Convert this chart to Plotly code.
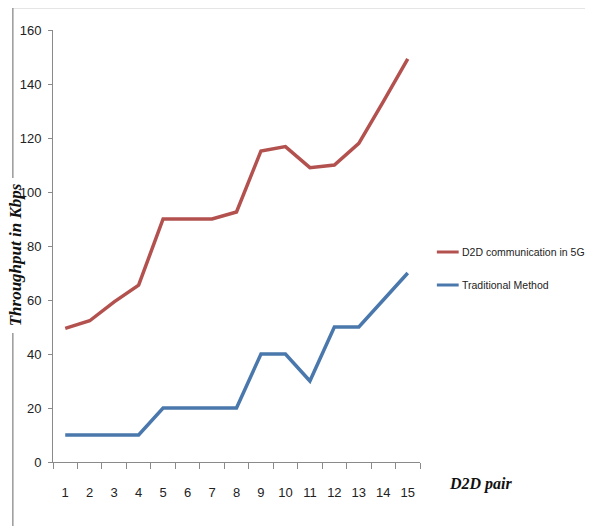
import plotly.graph_objects as go

pairs = list(range(1, 16))
d2d_5g = [49.5, 52.3, 59.3, 65.5, 90, 90, 90, 92.6, 115.2, 116.8, 109, 110, 118, 133.5, 149.3]
traditional = [10, 10, 10, 10, 20, 20, 20, 20, 40, 40, 30, 50, 50, 60, 70]
y_ticks = [0, 20, 40, 60, 80, 100, 120, 140, 160]
series_names = ["D2D communication in 5G", "Traditional Method"]
series_colors = ["#B3514F", "#4A78AC"]

OFF = 8  # page body margin
W, H = 593 - 2 * OFF, 526 - OFF
L, R, T, B = 50 - OFF, 420 - OFF, 30 - OFF, 462 - OFF
pw, ph = R - L, B - T

def px(x):
    return (x - OFF - L) / pw

def py(y):
    return (B - (y - OFF)) / ph

tick_font = dict(family="Liberation Sans Narrow, Arial Narrow, Liberation Sans, Arial", size=13, color="#222")

fig = go.Figure()
for name, vals, col in zip(series_names, [d2d_5g, traditional], series_colors):
    fig.add_trace(go.Scatter(x=pairs, y=vals, mode="lines", name=name,
                             line=dict(color=col, width=3.5), showlegend=False))

fig.update_layout(
    width=W, height=H,
    margin=dict(l=L, r=W - R, t=T, b=H - B),
    paper_bgcolor="white", plot_bgcolor="white",
    xaxis=dict(range=[0.5, 15.5], tickvals=pairs, ticktext=[str(p) for p in pairs],
               ticks="", showgrid=False, zeroline=False,
               showline=True, linecolor="#8a8a8a", linewidth=1,
               tickfont=tick_font, ticklabelstandoff=18,
               minor=dict(ticks="outside", tick0=0.5, dtick=1, ticklen=6, tickcolor="#8a8a8a", showgrid=False)),
    yaxis=dict(range=[0, 160], tickvals=y_ticks, ticks="outside", ticklen=4, tickcolor="#8a8a8a",
               showgrid=False, zeroline=False, showline=True, linecolor="#8a8a8a", linewidth=1,
               tickfont=tick_font, ticklabelstandoff=4),
)

# outer frame lines (left, interrupted by the axis title, and top)
for y0, y1 in [(7.5, 178), (333, 530)]:
    fig.add_shape(type="line", xref="paper", yref="paper", x0=px(9.5), x1=px(9.5), y0=py(y0), y1=py(y1),
                  line=dict(color="#999", width=1.5))
fig.add_shape(type="line", xref="paper", yref="paper", x0=px(9.5), x1=px(600), y0=py(7.5), y1=py(7.5),
              line=dict(color="#999", width=1.5))

# legend (drawn manually so it does not push the plot margins)
legend_y = [252, 285]
for name, col, ly in zip(series_names, series_colors, legend_y):
    fig.add_shape(type="line", xref="paper", yref="paper", x0=px(437), x1=px(459), y0=py(ly), y1=py(ly),
                  line=dict(color=col, width=3))
    fig.add_annotation(text=name, xref="paper", yref="paper", x=px(460), y=py(ly),
                       xanchor="left", yanchor="middle", showarrow=False,
                       font=dict(family="Liberation Sans Narrow, Arial Narrow, Liberation Sans, Arial",
                                 size=10.5, color="#222"))

fig.add_annotation(text="<b><i>Throughput in Kbps</i></b>", xref="paper", yref="paper",
                   x=px(13), y=py(255), xanchor="center", yanchor="middle", textangle=-90, showarrow=False,
                   font=dict(family="Liberation Serif, Times New Roman, serif", size=17, color="#111"))
fig.add_annotation(text="<b><i>D2D pair</i></b>", xref="paper", yref="paper",
                   x=px(481), y=py(484), xanchor="center", yanchor="middle", showarrow=False,
                   font=dict(family="Liberation Serif, Times New Roman, serif", size=16, color="#111"))

fig.write_html("out.html")
